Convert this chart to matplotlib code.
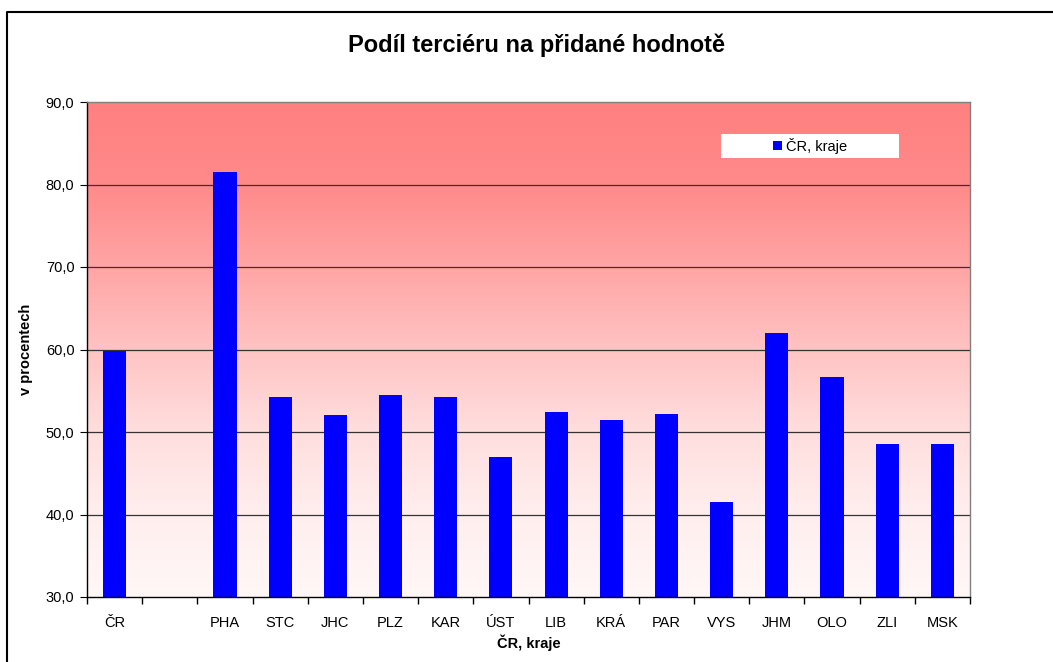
import numpy as np
import matplotlib.pyplot as plt
from matplotlib.colors import LinearSegmentedColormap
from matplotlib.ticker import FuncFormatter
from matplotlib.patches import Rectangle

plt.rcParams['font.family'] = ['Liberation Sans', 'DejaVu Sans']

# kraje (druhý sloupec je prázdná mezera za ČR)
kraje = ['ČR', '', 'PHA', 'STC', 'JHC', 'PLZ', 'KAR', 'ÚST', 'LIB', 'KRÁ',
         'PAR', 'VYS', 'JHM', 'OLO', 'ZLI', 'MSK']
podil = [59.8, np.nan, 81.5, 54.2, 52.1, 54.5, 54.2, 47.0, 52.4, 51.5,
         52.2, 41.5, 62.0, 56.7, 48.5, 48.5]
y_ticks = [30, 40, 50, 60, 70, 80, 90]

W, H = 1053, 662
fig = plt.figure(figsize=(W / 100, H / 100), dpi=100)
ax = fig.add_axes([87 / W, 1 - 597 / H, (970 - 87) / W, (597 - 102) / H])

# rámeček grafu
fig.add_artist(plt.Line2D([7 / W, 7 / W, 1.0], [0.0, 1 - 12 / H, 1 - 12 / H],
                          transform=fig.transFigure, color='black', lw=1.5))

x = np.arange(len(kraje))
ax.set_xlim(-0.5, len(kraje) - 0.5)

# přechod pozadí červená -> bílá (nahoře déle syté)
cmap = LinearSegmentedColormap.from_list('bg', [
    (0.0, '#fff7f7'), (1 / 6, '#ffeeee'), (2 / 6, '#ffdede'), (3 / 6, '#ffc3c3'),
    (4 / 6, '#ffa5a5'), (5 / 6, '#ff8a8a'), (1.0, '#ff8080')])
grad = np.linspace(0, 1, 256).reshape(-1, 1)
ax.imshow(grad, cmap=cmap, origin='lower', aspect='auto',
          extent=[-0.5, len(kraje) - 0.5, 30, 90], zorder=0)

for yv in y_ticks[1:-1]:
    ax.axhline(yv, color='#333333', lw=0.9, zorder=1)

ax.bar(x, podil, width=0.42, color='#0000ff', zorder=2, label='ČR, kraje')
ax.set_ylim(30, 90)

ax.set_yticks(y_ticks)
ax.yaxis.set_major_formatter(FuncFormatter(lambda v, p: f'{v:.1f}'.replace('.', ',')))
ax.set_xticks(x)
ax.set_xticklabels(kraje)
ax.set_xticks(np.arange(len(kraje) + 1) - 0.5, minor=True)
ax.tick_params(axis='x', which='major', length=0, pad=14, labelsize=10.5)
ax.tick_params(axis='x', which='minor', length=5, direction='out', width=1)
ax.tick_params(axis='y', length=5, direction='out', labelsize=10.5, pad=4)

ax.spines['left'].set_color('black')
ax.spines['bottom'].set_color('black')
ax.spines['top'].set_color('#808080')
ax.spines['right'].set_color('#808080')
for s in ax.spines.values():
    s.set_linewidth(1.0)

ax.set_ylabel('v procentech', fontsize=10.5, fontweight='bold')
ax.yaxis.set_label_coords((33 - 87) / 883, 0.5)
ax.set_xlabel('ČR, kraje', fontsize=10.5, fontweight='bold', labelpad=3)
fig.text(537 / W, 1 - 45 / H, 'Podíl terciéru na přidané hodnotě',
         ha='center', va='center', fontsize=17, fontweight='bold')

# bílý box legendy
ax.add_patch(Rectangle(((721 - 87) / 883, 1 - (158 - 102) / 495), 178 / 883, 24 / 495,
                       transform=ax.transAxes, facecolor='white', edgecolor='none', zorder=3))
leg = ax.legend(loc='center', bbox_to_anchor=((810 - 87) / 883, 1 - (146 - 102) / 495),
                frameon=False, fontsize=10.5, handlelength=0.6, handleheight=0.6,
                handletextpad=0.3, borderpad=0, borderaxespad=0)
leg.set_zorder(4)

fig.savefig('out.png', dpi=100)
